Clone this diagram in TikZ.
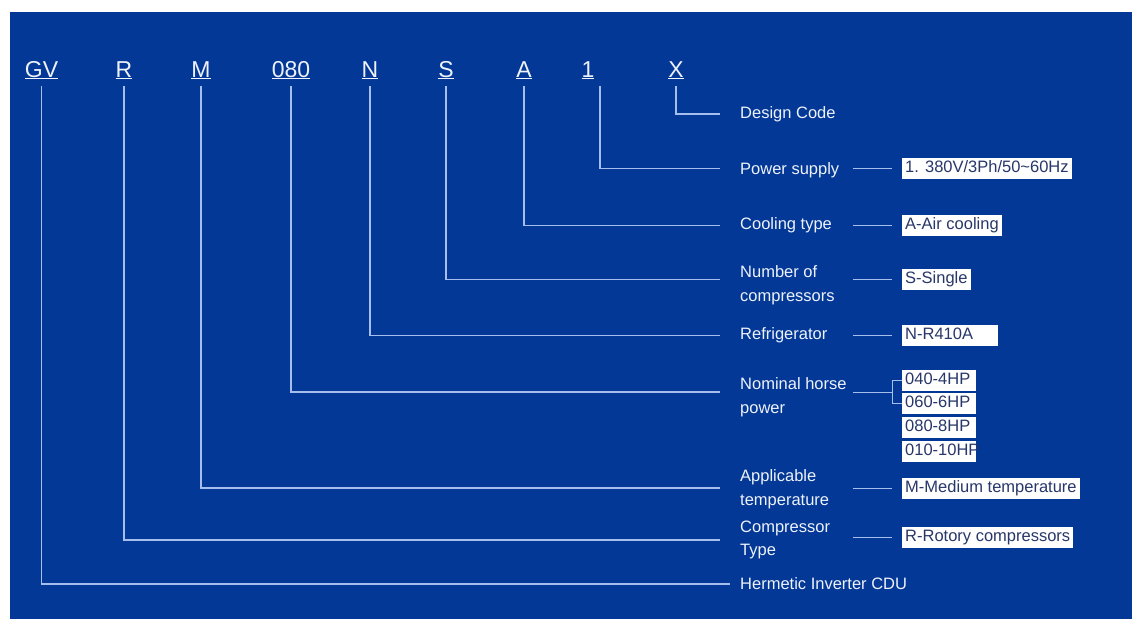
\documentclass[tikz,border=0pt]{standalone}
\usepackage{fontspec}
\setmainfont{Liberation Sans}
\usetikzlibrary{calc}
\definecolor{panelblue}{RGB}{3,56,150}
\definecolor{linkblue}{RGB}{165,190,235}
\definecolor{boxtext}{RGB}{40,55,105}
\definecolor{labwhite}{RGB}{238,242,250}

\begin{document}
\begin{tikzpicture}[
  x=1pt,y=-1pt,
  code/.style={anchor=base,inner sep=0pt,text=labwhite,font=\fontsize{23}{23}\selectfont},
  lab/.style={anchor=west,inner sep=0pt,text=labwhite,align=left,font=\fontsize{16.5}{23.5}\selectfont},
  val/.style={anchor=west,fill=white,text=boxtext,inner xsep=3pt,inner ysep=2.75pt,
    text height=12pt,text depth=3.5pt,font=\fontsize{16.5}{18}\selectfont},
  hpval/.style={val,text width=68pt},
  lead/.style={draw=linkblue,line width=1.8pt,shorten <=7pt,shorten >=20pt},
  tick/.style={draw=linkblue,line width=1pt}]
  \fill[white](0,0) rectangle (1132,619);
  \fill[panelblue](10,12) rectangle (1132,619);
  % model code
  \node[code](cgv) at(41.5,77){\underline{GV}};
  \node[code](cr) at(124,77){\underline{R}};
  \node[code](cm) at(201,77){\underline{M}};
  \node[code](c080) at(291,77){\underline{080}};
  \node[code](cn) at(370,77){\underline{N}};
  \node[code](cs) at(446,77){\underline{S}};
  \node[code](ca) at(524,77){\underline{A}};
  \node[code](c1) at(588,77){\underline{1}};
  \node[code](cx) at(676,77){\underline{X}};
  % meanings
  \node[lab](ldc) at(740,114){Design Code};
  \node[lab](lps) at(740,170){Power supply};
  \node[lab](lct) at(740,225){Cooling type};
  \node[lab](lnc) at(740,285){Number of\\compressors};
  \node[lab](lrf) at(740,335){Refrigerator};
  \node[lab](lnh) at(740,397){Nominal horse\\power};
  \node[lab](lat) at(740,489){Applicable\\temperature};
  \node[lab](lcp) at(740,540){Compressor\\Type};
  \node[lab](lhi) at(740,584){Hermetic Inverter CDU};
  % options
  \node[val](vps) at(902,168.5){1. 380V/3Ph/50\textasciitilde60Hz};
  \node[val](vct) at(902,225.5){A-Air cooling};
  \node[val](vnc) at(902,279.5){S-Single};
  \node[val,text width=90pt](vrf) at(902,335.5){N-R410A};
  \node[hpval](vh1) at(902,380.5){040-4HP};
  \node[hpval](vh2) at(902,403.5){060-6HP};
  \node[hpval](vh3) at(902,427){080-8HP};
  \node[hpval](vh4) at(902,451){\mbox{010-10HP}};
  \node[val](vat) at(902,488){M-Medium temperature};
  \node[val](vcp) at(902,537.5){R-Rotory compressors};
  \coordinate(br) at($(vh1.west)!0.5!(vh2.west)+(-10,0)$);
  % leaders from the code
  \draw[lead](cx.south) |- (ldc.west);
  \draw[lead]([xshift=12pt]c1.south) |- (lps.west |- vps.west);
  \draw[lead](ca.south) |- (lct.west |- vct.west);
  \draw[lead](cs.south) |- (lnc.west |- vnc.west);
  \draw[lead](cn.south) |- (lrf.west |- vrf.west);
  \draw[lead](c080.south) |- (lnh.west |- br);
  \draw[lead](cm.south) |- (lat.west |- vat.west);
  \draw[lead](cr.south) |- (lcp.west);
  \draw[lead,shorten >=10pt](cgv.south) |- (lhi.west);
  % ticks to the options
  \draw[tick,shorten <=10pt](vps.west) -- ++(-49,0);
  \draw[tick,shorten <=10pt](vct.west) -- ++(-49,0);
  \draw[tick,shorten <=10pt](vnc.west) -- ++(-49,0);
  \draw[tick,shorten <=10pt](vrf.west) -- ++(-49,0);
  \draw[tick](vh1.west) -- ++(-10,0) |- (vh2.west);
  \draw[tick](br) -- ++(-39,0);
  \draw[tick,shorten <=10pt](vat.west) -- ++(-49,0);
  \draw[tick,shorten <=10pt](vcp.west) -- ++(-49,0);
\end{tikzpicture}
\end{document}
